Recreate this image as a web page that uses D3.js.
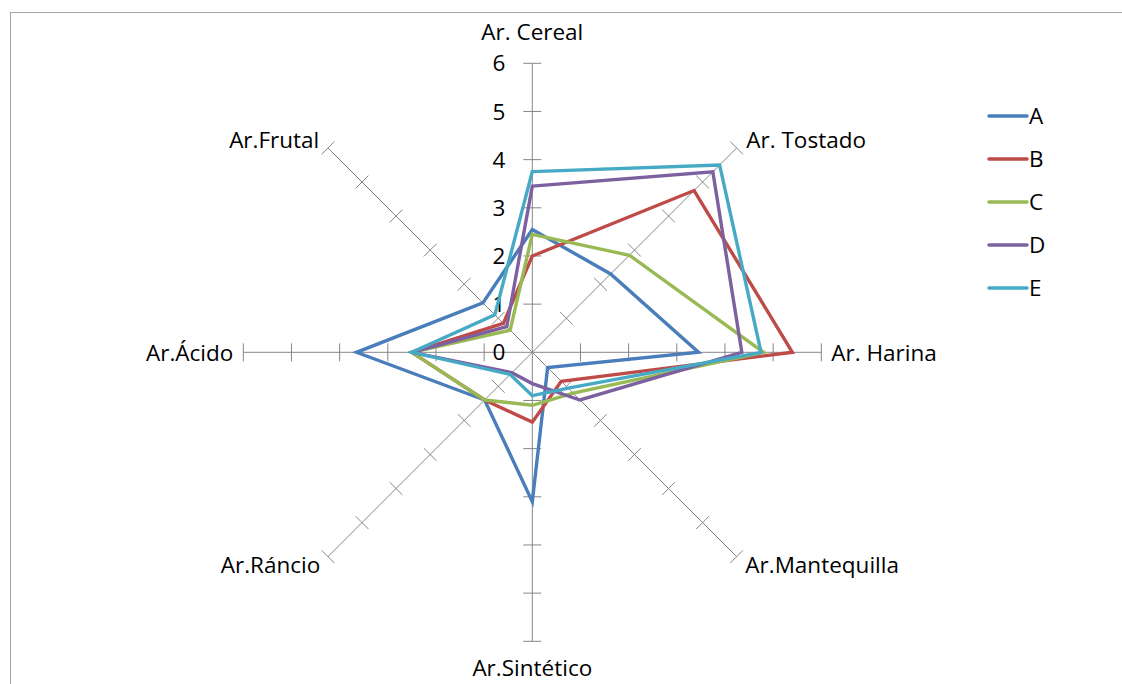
<!DOCTYPE html>
<html>
<head>
<meta charset="utf-8">
<script src="https://cdn.jsdelivr.net/npm/d3@7"></script>
<style>
  html, body { margin: 0; padding: 0; background: #fff; }
  svg { display: block; }
  text { font-family: "Open Sans", Lato, sans-serif; fill: #000; }
</style>
</head>
<body>
<svg id="chart" width="1122" height="684"></svg>
<script>
// Aroma attributes, clockwise from the top
const axes = ["Ar. Cereal", "Ar. Tostado", "Ar. Harina", "Ar.Mantequilla",
              "Ar.Sintético", "Ar.Ráncio", "Ar.Ácido", "Ar.Frutal"];
const seriesNames = ["A", "B", "C", "D", "E"];
const valuesA = [2.55, 2.3, 3.45, 0.45, 3.1, 1.4, 3.65, 1.45];
const valuesB = [2.0, 4.75, 5.4, 0.85, 1.45, 1.4, 2.5, 0.85];
const valuesC = [2.45, 2.85, 4.8, 1.2, 1.1, 1.4, 2.5, 0.65];
const valuesD = [3.45, 5.3, 4.35, 1.4, 0.65, 0.6, 2.5, 0.75];
const valuesE = [3.75, 5.5, 4.75, 1.05, 0.9, 0.65, 2.5, 1.1];
const tickValues = [0, 1, 2, 3, 4, 5, 6];
const colors = ["#4A7EBB", "#BE4B48", "#98B954", "#7D60A0", "#46AAC5"];

const series = [valuesA, valuesB, valuesC, valuesD, valuesE];

const svg = d3.select("#chart");
const cx = 532.3, cy = 352.3;
const r = d3.scaleLinear().domain([0, 6]).range([0, 289]);
const angle = d3.scalePoint().domain(d3.range(axes.length + 1)).range([0, 2 * Math.PI]);
const fontSize = 22.5;

// chart frame
svg.append("rect")
  .attr("x", 10.5).attr("y", 12.5).attr("width", 1300).attr("height", 900)
  .attr("fill", "none").attr("stroke", "#a6a6a6").attr("stroke-width", 1);

const g = svg.append("g").attr("transform", `translate(${cx},${cy})`);

function pt(i, v) {
  const a = angle(i);
  return [Math.sin(a) * r(v), -Math.cos(a) * r(v)];
}

// spokes with unit tick marks
axes.forEach((name, i) => {
  const a = angle(i);
  const [x2, y2] = pt(i, 6);
  g.append("line").attr("x1", 0).attr("y1", 0).attr("x2", x2).attr("y2", y2)
    .attr("stroke", "#868686").attr("stroke-width", 1);
  const px = Math.cos(a), py = Math.sin(a);
  tickValues.slice(1).forEach(t => {
    const [x, y] = pt(i, t);
    g.append("line")
      .attr("x1", x - px * 9).attr("y1", y - py * 9)
      .attr("x2", x + px * 9).attr("y2", y + py * 9)
      .attr("stroke", "#868686").attr("stroke-width", 1);
  });
});

// radial value labels on the top spoke
g.selectAll("text.tick").data(tickValues).join("text")
  .attr("class", "tick")
  .attr("x", -27)
  .attr("y", d => -r(d))
  .attr("dy", "0.36em")
  .attr("text-anchor", "end")
  .attr("font-size", fontSize)
  .text(d => d);

// category labels
const labelPos = [
  { x: 0, y: -320, anchor: "middle" },
  { x: 214, y: -212, anchor: "start" },
  { x: 299, y: 1, anchor: "start" },
  { x: 213, y: 213, anchor: "start" },
  { x: 0, y: 316, anchor: "middle" },
  { x: -212, y: 213, anchor: "end" },
  { x: -299, y: 1, anchor: "end" },
  { x: -213, y: -212, anchor: "end" }
];
axes.forEach((name, i) => {
  g.append("text")
    .attr("x", labelPos[i].x).attr("y", labelPos[i].y)
    .attr("dy", "0.36em")
    .attr("text-anchor", labelPos[i].anchor)
    .attr("font-size", fontSize)
    .text(name);
});

// series polygons
const line = d3.line().x(d => d[0]).y(d => d[1]).curve(d3.curveLinearClosed);
series.forEach((vals, s) => {
  g.append("path")
    .attr("d", line(vals.map((v, i) => pt(i, v))))
    .attr("fill", "none")
    .attr("stroke", colors[s])
    .attr("stroke-width", 3.4)
    .attr("stroke-linejoin", "miter");
});

// legend
const legend = svg.append("g").attr("transform", "translate(988,116)");
seriesNames.forEach((n, s) => {
  const row = legend.append("g").attr("transform", `translate(0,${s * 43})`);
  row.append("line").attr("x1", 1).attr("x2", 39).attr("y1", 0).attr("y2", 0)
    .attr("stroke", colors[s]).attr("stroke-width", 3.5).attr("stroke-linecap", "round");
  row.append("text").attr("x", 41).attr("y", 0).attr("dy", "0.36em")
    .attr("font-size", fontSize).text(n);
});
</script>
</body>
</html>
